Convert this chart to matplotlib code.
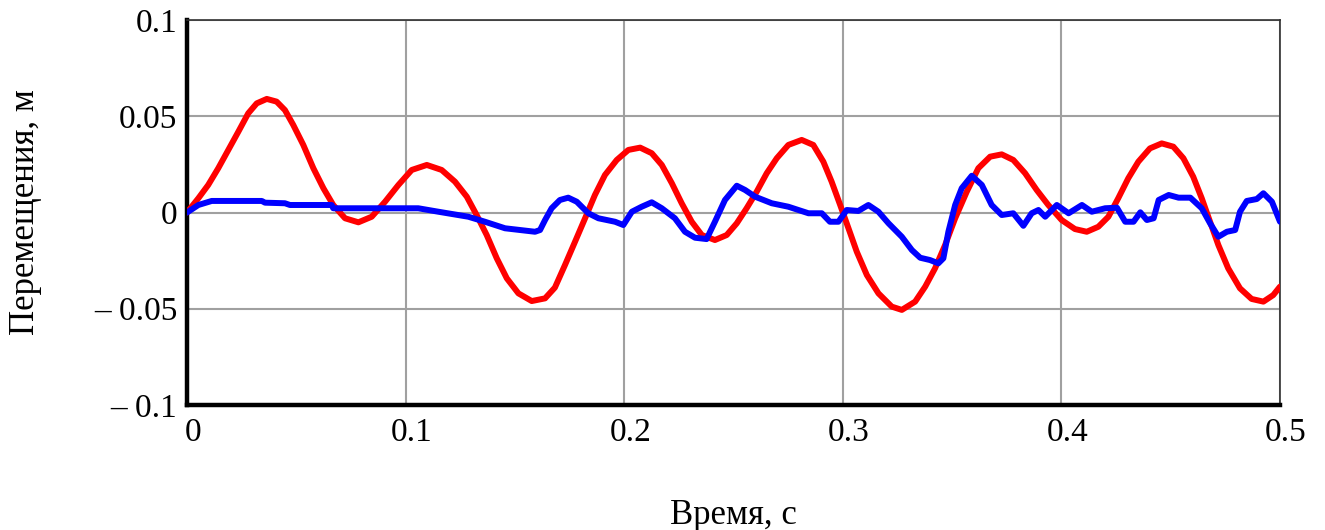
import matplotlib
matplotlib.use("Agg")
import matplotlib.pyplot as plt
from matplotlib.transforms import ScaledTranslation

# red curve (time, s / displacement, m)
t_red = [0.0, 0.0052, 0.0097, 0.0143, 0.0189, 0.0235, 0.028, 0.0319, 0.0365, 0.041,
         0.0448, 0.0486, 0.0532, 0.0578, 0.0624, 0.0669, 0.0723, 0.0784, 0.0845, 0.0906,
         0.0967, 0.1028, 0.1097, 0.1165, 0.1226, 0.128, 0.1325, 0.1371, 0.1417, 0.1463,
         0.1516, 0.1577, 0.1638, 0.1683, 0.1729, 0.1775, 0.1821, 0.1866, 0.1912, 0.1966,
         0.2019, 0.2073, 0.2126, 0.2172, 0.2218, 0.2263, 0.2309, 0.2355, 0.2415, 0.2469,
         0.2515, 0.256, 0.2606, 0.2652, 0.2698, 0.2751, 0.2812, 0.2865, 0.2911, 0.2949,
         0.2988, 0.3026, 0.3064, 0.311, 0.3163, 0.3224, 0.327, 0.3331, 0.3377, 0.3422,
         0.3468, 0.3514, 0.3567, 0.362, 0.3674, 0.3727, 0.378, 0.3834, 0.3887, 0.394,
         0.4001, 0.4062, 0.4116, 0.4169, 0.4215, 0.426, 0.4306, 0.4352, 0.4405, 0.4459,
         0.4512, 0.4558, 0.4603, 0.4642, 0.468, 0.4718, 0.4763, 0.4817, 0.487, 0.4924,
         0.4969, 0.5]
x_red = [0.0, 0.0074, 0.0143, 0.023, 0.0325, 0.042, 0.0515, 0.0567, 0.059, 0.0576,
         0.0532, 0.0455, 0.0351, 0.023, 0.0126, 0.0039, -0.003, -0.0051, -0.0022, 0.0056,
         0.0143, 0.0221, 0.0247, 0.0221, 0.016, 0.0082, -0.0013, -0.0117, -0.0238, -0.0342,
         -0.042, -0.046, -0.0446, -0.039, -0.0273, -0.0152, -0.003, 0.0091, 0.0195, 0.0273,
         0.0325, 0.0337, 0.0308, 0.0247, 0.0152, 0.0048, -0.0048, -0.0117, -0.0143, -0.0117,
         -0.0056, 0.0022, 0.0108, 0.0204, 0.0282, 0.0351, 0.0377, 0.0351, 0.0264, 0.016,
         0.0039, -0.0082, -0.0204, -0.0325, -0.042, -0.0489, -0.0506, -0.0463, -0.0385, -0.029,
         -0.0169, -0.003, 0.0108, 0.023, 0.029, 0.0302, 0.0273, 0.0204, 0.0117, 0.0039,
         -0.0039, -0.0086, -0.01, -0.0074, -0.0022, 0.0074, 0.0178, 0.0264, 0.0333, 0.0359,
         0.0342, 0.0282, 0.0186, 0.0074, -0.0048, -0.0169, -0.029, -0.0394, -0.0449, -0.0463,
         -0.0429, -0.0385]

# blue curve
t_blue = [0.0, 0.0052, 0.0113, 0.0342, 0.0357, 0.0448, 0.0471, 0.0662, 0.0669, 0.1058,
          0.115, 0.1287, 0.1363, 0.1455, 0.1592, 0.1615, 0.1638, 0.1668, 0.1706, 0.1744,
          0.1783, 0.1836, 0.1882, 0.1958, 0.1996, 0.2035, 0.208, 0.2126, 0.2172, 0.2232,
          0.2278, 0.2324, 0.2377, 0.2415, 0.2461, 0.2515, 0.2553, 0.2599, 0.2675, 0.2751,
          0.2843, 0.2904, 0.2941, 0.298, 0.3018, 0.3071, 0.3117, 0.3163, 0.3209, 0.327,
          0.3316, 0.3354, 0.3399, 0.3437, 0.346, 0.3483, 0.3514, 0.3544, 0.359, 0.3636,
          0.3681, 0.3727, 0.378, 0.3826, 0.3864, 0.3895, 0.3926, 0.3979, 0.4033, 0.4094,
          0.4139, 0.42, 0.4254, 0.4292, 0.433, 0.4361, 0.4391, 0.4422, 0.4445, 0.4491,
          0.4536, 0.459, 0.4642, 0.468, 0.4718, 0.4757, 0.4795, 0.4817, 0.4848, 0.4894,
          0.4924, 0.4963, 0.5]
x_blue = [0.0, 0.0039, 0.006, 0.006, 0.0051, 0.0048, 0.0039, 0.0039, 0.0022, 0.0022,
          0.0004, -0.0022, -0.0048, -0.0082, -0.01, -0.0091, -0.0039, 0.0022, 0.0065, 0.0077,
          0.0056, -0.0004, -0.003, -0.0048, -0.0065, 0.0004, 0.003, 0.0053, 0.0022, -0.003,
          -0.01, -0.0131, -0.0138, -0.0048, 0.0065, 0.0139, 0.0117, 0.0082, 0.0048, 0.003,
          -0.0004, -0.0004, -0.0048, -0.0048, 0.0013, 0.0008, 0.0039, 0.0004, -0.0056, -0.0126,
          -0.0195, -0.0235, -0.0247, -0.0264, -0.0238, -0.01, 0.0039, 0.0126, 0.0191, 0.0143,
          0.0039, -0.0013, -0.0004, -0.0069, -0.0004, 0.0013, -0.0022, 0.0039, -0.0004, 0.0039,
          0.0004, 0.0022, 0.0025, -0.0048, -0.0048, 0.0001, -0.0039, -0.003, 0.0065, 0.0091,
          0.0077, 0.0077, 0.0022, -0.0056, -0.0126, -0.01, -0.0091, 0.0004, 0.006, 0.007,
          0.01, 0.0056, -0.0048]

x_ticks = [0, 0.1, 0.2, 0.3, 0.4, 0.5]
x_labels = ["0", "0.1", "0.2", "0.3", "0.4", "0.5"]
y_ticks = [-0.1, -0.05, 0, 0.05, 0.1]
y_labels = ["\u2013 0.1", "\u2013 0.05", "0", "0.05", "0.1"]

plt.rcParams['font.family'] = ['Liberation Serif', 'DejaVu Serif']

fig = plt.figure(figsize=(13.25, 5.3), dpi=100)
ax = fig.add_axes([187 / 1325, 1 - 405 / 530, (1280 - 187) / 1325, (405 - 20) / 530])

ax.plot(t_red, x_red, color='#ff0000', lw=4.3, solid_joinstyle='round',
        solid_capstyle='round', zorder=3)
ax.plot(t_blue, x_blue, color='#0000ff', lw=4.3, solid_joinstyle='round',
        solid_capstyle='round', zorder=4)

ax.set_xlim(0, 0.5)
ax.set_ylim(-0.1, 0.1)
ax.set_xticks(x_ticks)
ax.set_xticklabels(x_labels)
ax.set_yticks(y_ticks)
ax.set_yticklabels(y_labels)
ax.tick_params(length=0, labelsize=24)
ax.tick_params(axis='x', pad=9)
ax.tick_params(axis='y', pad=7)
ax.grid(True, color='#a0a0a0', lw=1.5)
ax.set_axisbelow(True)

# Mathcad-style labels sit a bit right of the tick
shift = ScaledTranslation(0.06, 0, fig.dpi_scale_trans)
for lbl in ax.get_xticklabels():
    lbl.set_transform(lbl.get_transform() + shift)

for side in ['left', 'bottom']:
    ax.spines[side].set_linewidth(3.2)
    ax.spines[side].set_color('black')
for side in ['top', 'right']:
    ax.spines[side].set_linewidth(1.2)
    ax.spines[side].set_color('#303030')

ax.set_xlabel('Время, с', fontsize=25)
ax.xaxis.set_label_coords(0.5, -0.245)
ax.set_ylabel('Перемещения, м', fontsize=25)
ax.yaxis.set_label_coords(-0.133, 0.5)

fig.savefig('out.png', dpi=100)
